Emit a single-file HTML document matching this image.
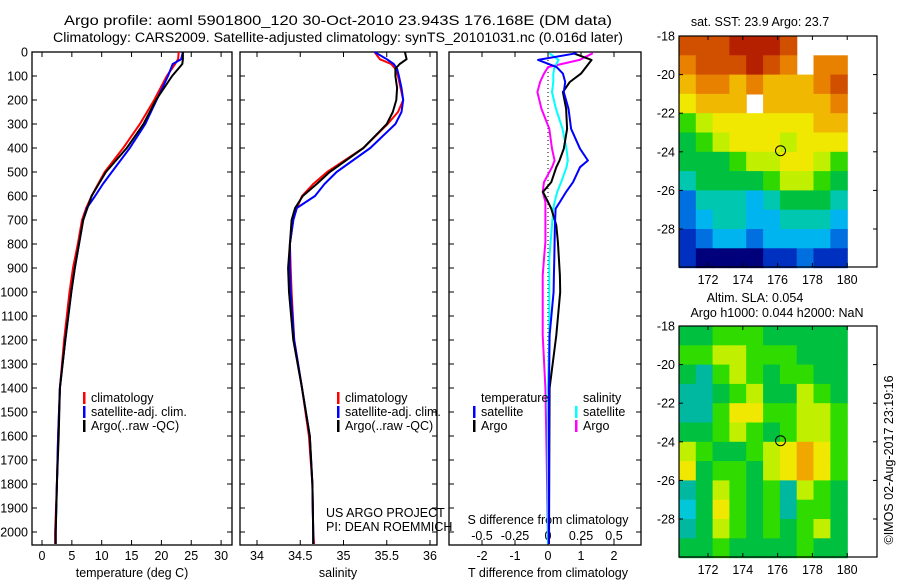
<!DOCTYPE html>
<html><head><meta charset="utf-8"><style>
body{margin:0;background:#fff;}
svg{display:block;font-family:"Liberation Sans",Arial,sans-serif;}
</style></head><body>
<svg id="fig" width="900" height="580" viewBox="0 0 900 580">
<rect width="900" height="580" fill="#fff"/>
<text x="338" y="25" font-size="14" text-anchor="middle" textLength="548" lengthAdjust="spacingAndGlyphs">Argo profile: aoml 5901800_120 30-Oct-2010 23.943S 176.168E (DM data)</text>
<text x="338" y="42" font-size="13.5" text-anchor="middle" textLength="570" lengthAdjust="spacingAndGlyphs">Climatology: CARS2009. Satellite-adjusted climatology: synTS_20101031.nc (0.016d later)</text>
<g id="g"></g>
</svg>
<script>
// ---------- data ----------
const tDepth=[0,30,50,100,200,300,400,500,550,600,650,700,800,900,1000,1200,1400,1600,1800,2000,2050];
const tArgo=[23.6,23.6,23.5,21.8,19.1,17.0,14.2,10.7,9.5,8.3,7.6,6.9,6.2,5.5,4.9,3.9,3.0,2.8,2.5,2.3,2.3];
const tClim=[22.9,22.8,22.3,20.9,18.8,16.4,13.6,10.5,9.4,8.3,7.4,6.7,6.0,5.2,4.6,3.7,3.0,2.7,2.5,2.2,2.2];
const tSat=[23.6,23.3,21.9,21.1,19.2,17.3,14.7,11.7,10.2,8.9,7.5,6.9,6.2,5.5,4.9,3.9,3.0,2.7,2.5,2.3,2.3];
const sDepth=[0,30,50,70,100,150,200,250,300,400,500,550,600,650,700,800,900,1000,1200,1400,1600,1800,2000,2050];
const sArgo=[35.71,35.73,35.65,35.60,35.60,35.62,35.61,35.57,35.50,35.23,34.84,34.69,34.53,34.44,34.40,34.38,34.36,34.37,34.42,34.52,34.61,34.64,34.65,34.65];
const sClim=[35.36,35.42,35.55,35.60,35.63,35.66,35.69,35.63,35.51,35.23,34.81,34.65,34.52,34.46,34.42,34.38,34.39,34.40,34.43,34.52,34.60,34.64,34.65,34.66];
const sSat=[35.36,35.50,35.58,35.62,35.64,35.67,35.69,35.67,35.60,35.31,34.92,34.78,34.67,34.46,34.42,34.38,34.38,34.39,34.43,34.52,34.61,34.64,34.65,34.65];
const dDepth=[5,33,63,90,125,167,236,320,403,452,480,542,583,625,653,722,792,861,931,1000,1180,1400,1700,2050];
const dTsat=[0.87,-0.3,0.26,0.45,0.52,0.48,0.62,0.70,0.97,1.21,0.97,0.76,0.55,0.36,0.23,0.21,0.20,0.19,0.18,0.17,0.05,0.03,0.03,0.02];
const dTargo=[0.76,1.32,1.15,1.0,0.66,0.45,0.55,0.58,0.48,0.35,0.25,0.10,-0.15,0.0,0.10,0.25,0.30,0.33,0.36,0.37,0.25,0.05,0.04,0.03];
const dSsat=[0.01,0.08,0.05,0.04,0.04,0.03,0.06,0.11,0.14,0.15,0.14,0.10,0.07,0.05,0.04,0.03,0.02,0.01,0.01,0.01,0.01,0.0,0.0,0.0];
const dSargo=[0.34,0.24,0.0,-0.03,-0.06,-0.08,-0.05,0.01,0.03,0.05,0.03,-0.03,-0.04,-0.02,-0.02,-0.02,-0.02,-0.03,-0.04,-0.04,-0.04,-0.02,-0.01,0.0];
const depthTicks=[0,100,200,300,400,500,600,700,800,900,1000,1100,1200,1300,1400,1500,1600,1700,1800,1900,2000];
const tTicks=[0,5,10,15,20,25,30];
const sTicks=[34,34.5,35,35.5,36];
const sTickLabels=["34","34.5","35","35.5","36"];
const dtTicks=[-2,-1,0,1,2];
const dsTicks=[-0.5,-0.25,0,0.25,0.5];
const dsTickLabels=["-0.5","-0.25","0","0.25","0.5"];
const lonTicks=[172,174,176,178,180];
const latTicks=[-18,-20,-22,-24,-26,-28];
const argoLon=176.168, argoLat=-23.943;
const sstGrid=[
[11,11,11,12,12,12,11,-1,-1,-1],
[10,11,11,11,12,11,10,-1,10,10],
[9,10,10,9,10,9,9,9,10,11],
[8,9,9,9,-1,9,9,9,9,10],
[6,7,8,8,8,8,8,8,9,9],
[5,6,7,8,8,8,7,8,8,8],
[5,5,5,6,7,7,8,8,7,6],
[4,5,5,5,5,6,7,7,6,5],
[2,4,4,4,3,4,5,5,5,4],
[2,3,4,4,3,3,4,4,4,3],
[1,2,3,3,2,3,3,3,3,2],
[1,0,0,0,0,1,1,2,1,1]];
const slaGrid=[
[2,2,3,3,3,2,2,2,2,2],
[3,3,4,4,3,3,3,2,2,2],
[2,1,3,4,3,2,3,3,2,2],
[1,1,2,3,4,2,2,4,3,2],
[1,1,3,5,5,3,3,4,4,3],
[2,2,3,4,3,2,3,4,4,3],
[4,3,2,2,3,4,5,6,5,3],
[5,2,3,3,2,4,5,6,5,3],
[1,2,4,3,2,3,1,4,3,2],
[0,2,5,3,2,3,1,3,3,2],
[1,2,4,3,2,3,2,3,4,2],
[2,2,3,2,2,2,2,3,2,2]];
const sstPal=["#00007a","#0030c0","#0070e0","#00b4f0","#00c8b0","#00c040","#30d800","#c0f000","#f0e800","#f0b800","#e88000","#d05000","#b42000"];
const slaPal=["#00c8d8","#00b8a0","#00c040","#30dc00","#c0f000","#f0e800","#f0a800"];

const NS="http://www.w3.org/2000/svg";
const G=document.getElementById('g');
function mk(tag,attrs,parent){const e=document.createElementNS(NS,tag);for(const k in attrs)e.setAttribute(k,attrs[k]);(parent||G).appendChild(e);return e;}
function txt(x,y,s,attrs,parent){const e=mk('text',Object.assign({x:x,y:y,'font-size':12},attrs||{}),parent);e.textContent=s;return e;}

const PT=52, PB=545;
function yD(d){return PT+d*0.24;}
const xT=v=>42+5.97*v;
const xS=v=>257+86.5*(v-34);
const xDT=v=>548+33*v;
const xDS=v=>548+132*v;
const panels=[[32,232],[240,437],[449,641]];
panels.forEach((p,i)=>{
  const r=mk('rect',{x:p[0],y:PT,width:p[1]-p[0],height:PB-PT,fill:'none',stroke:'#000','stroke-width':1.3});
  
  
  depthTicks.forEach(d=>{
    mk('line',{x1:p[0],x2:p[0]+5,y1:yD(d),y2:yD(d),stroke:'#000'});
    mk('line',{x1:p[1],x2:p[1]-5,y1:yD(d),y2:yD(d),stroke:'#000'});
  });
});
depthTicks.forEach(d=>{
  const t=txt(28,yD(d)+4.5,String(d),{'text-anchor':'end','font-size':12.5});
  
  
});
function xticks(vals,labels,f,ty,p,both){
  vals.forEach((v,i)=>{
    const x=f(v);
    mk('line',{x1:x,x2:x,y1:PB,y2:PB-5,stroke:'#000'});
    if(both)mk('line',{x1:x,x2:x,y1:PT,y2:PT+5,stroke:'#000'});
    if(ty){const t=txt(x,ty,labels[i],{'text-anchor':'middle','font-size':12.5});
    
    }
  });
}
xticks(tTicks,tTicks.map(String),xT,560,panels[0],true);
xticks(sTicks,sTickLabels,xS,560,panels[1],true);
xticks(dtTicks,dtTicks.map(String),xDT,560,panels[2],true);
dsTicks.forEach((v,i)=>{const t=txt(xDS(v),540,dsTickLabels[i],{'text-anchor':'middle','font-size':12.5});
  
  });
[[132,'temperature (deg C)','x-axis-title-temperature'],[338,'salinity','x-axis-title-salinity'],[548,'T difference from climatology','x-axis-title-t-diff']].forEach(a=>{
  const t=txt(a[0],577,a[1],{'text-anchor':'middle','font-size':12.5});
  
  
});
const sd=txt(548,524,'S difference from climatology',{'text-anchor':'middle','font-size':12.5});



const zl=mk('line',{x1:xDT(0),x2:xDT(0),y1:PT,y2:PB,stroke:'#000','stroke-dasharray':'1,3'});



function series(depths,vals,fx,col,name,w){
  const pts=depths.map((d,i)=>fx(vals[i]).toFixed(1)+','+yD(d).toFixed(1)).join(' ');
  const l=mk('polyline',{points:pts,fill:'none',stroke:col,'stroke-width':w||2,'stroke-linejoin':'round'});
  
  
}
series(tDepth,tClim,xT,'#f00','temp-climatology-line');
series(tDepth,tSat,xT,'#00f','temp-satellite-line');
series(tDepth,tArgo,xT,'#000','temp-argo-line');
series(sDepth,sClim,xS,'#f00','salinity-climatology-line');
series(sDepth,sSat,xS,'#00f','salinity-satellite-line');
series(sDepth,sArgo,xS,'#000','salinity-argo-line');
series(dDepth,dSargo,xDS,'#f0f','s-diff-argo-line');
series(dDepth,dSsat,xDS,'#0ff','s-diff-satellite-line');
series(dDepth,dTargo,xDT,'#000','t-diff-argo-line');
series(dDepth,dTsat,xDT,'#00f','t-diff-satellite-line');

function leg(x,y,col,label,name){
  const g=mk('g',{});
  
  
  mk('rect',{x:x,y:y-10,width:2.5,height:12,fill:col},g);
  txt(x+8,y,label,{'font-size':12.5},g);
}
[[83],[337]].forEach((a,i)=>{
  leg(a[0],402,'#f00','climatology','legend-climatology-'+(i+1));
  leg(a[0],416,'#00f','satellite-adj. clim.','legend-satellite-'+(i+1));
  leg(a[0],430,'#000','Argo(..raw -QC)','legend-argo-'+(i+1));
});
const lt1=txt(481,402,'temperature',{'font-size':12.5});


const lt2=txt(583,402,'salinity',{'font-size':12.5});


leg(473,416,'#00f','satellite','legend-t-satellite');
leg(473,430,'#000','Argo','legend-t-argo');
leg(575,416,'#0ff','satellite','legend-s-satellite');
leg(575,430,'#f0f','Argo','legend-s-argo');
const c1=txt(326,517,'US ARGO PROJECT',{'font-size':12.5});


const c2=txt(326,531,'PI: DEAN ROEMMICH',{'font-size':12.5});



function drawMap(top,grid,pal,name,titles){
  const L=679,R=877,B=top+231;
  const xL=lon=>708+(lon-172)*17.4;
  const yL=lat=>top+(-18-lat)*19.3;
  const g=mk('g',{});
  
  
  const lon0=170.33, cw=(180-lon0)/10;
  grid.forEach((row,r)=>row.forEach((v,c)=>{
    if(v<0)return;
    const x0=xL(lon0+c*cw), x1=xL(lon0+(c+1)*cw), y0=yL(-18-r), y1=yL(-19-r);
    const cell=mk('rect',{x:x0.toFixed(1),y:y0.toFixed(1),width:(x1-x0+0.6).toFixed(1),height:(y1-y0+0.6).toFixed(1),fill:pal[v]},g);
    
    
  }));
  mk('rect',{x:L,y:top,width:R-L,height:B-top,fill:'none',stroke:'#000','stroke-width':1.2},g);
  lonTicks.forEach(v=>{const x=xL(v);
    mk('line',{x1:x,x2:x,y1:B,y2:B-4,stroke:'#000'},g);mk('line',{x1:x,x2:x,y1:top,y2:top+4,stroke:'#000'},g);
    txt(x,B+17,String(v),{'text-anchor':'middle','font-size':12.5},g);});
  latTicks.forEach(v=>{const y=yL(v);
    mk('line',{x1:L,x2:L+4,y1:y,y2:y,stroke:'#000'},g);mk('line',{x1:R,x2:R-4,y1:y,y2:y,stroke:'#000'},g);
    txt(675,y+4.5,String(v),{'text-anchor':'end','font-size':12.5},g);});
  const m=mk('circle',{cx:xL(argoLon),cy:yL(argoLat),r:5,fill:'none',stroke:'#000','stroke-width':1},g);
  
  
  titles.forEach(t=>txt(t[0],t[1],t[2],{'text-anchor':'middle','font-size':12.5},g));
}
drawMap(36,sstGrid,sstPal,'sst-map',[[760,26,'sat. SST: 23.9 Argo: 23.7']]);
drawMap(326,slaGrid,slaPal,'sla-map',[[755,302,'Altim. SLA: 0.054'],[777,317,'Argo h1000: 0.044 h2000: NaN']]);
const cp=txt(0,0,'©IMOS 02-Aug-2017 23:19:16',{'text-anchor':'middle','font-size':12.5,transform:'translate(893,460) rotate(-90)'});


</script>
</body></html>
